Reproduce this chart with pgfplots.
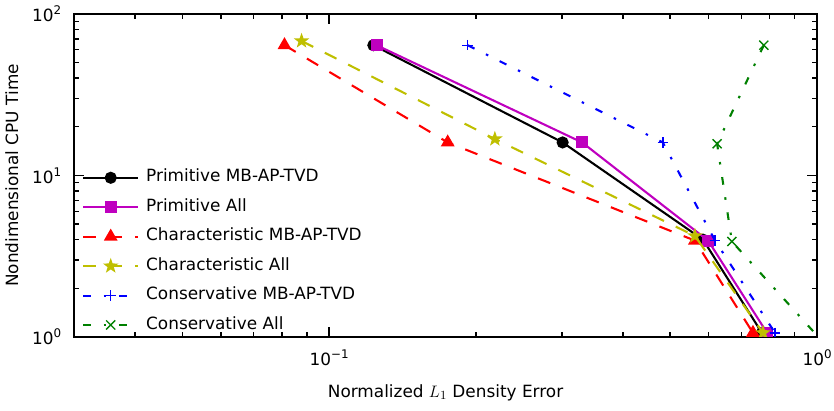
\documentclass[border=0pt]{standalone}
\usepackage{fontspec}
\setmainfont{DejaVu Sans}
\usepackage{pgfplots}
\pgfplotsset{compat=1.18}
\usetikzlibrary{plotmarks}

\definecolor{mplm}{rgb}{0.75,0,0.75}
\definecolor{mply}{rgb}{0.75,0.75,0}
\definecolor{mplg}{rgb}{0,0.5,0}

\pgfdeclareplotmark{fstar}{%
  \pgfpathmoveto{\pgfpointpolar{90}{\pgfplotmarksize}}%
  \pgfpathlineto{\pgfpointpolar{126}{0.40\pgfplotmarksize}}%
  \pgfpathlineto{\pgfpointpolar{162}{\pgfplotmarksize}}%
  \pgfpathlineto{\pgfpointpolar{198}{0.40\pgfplotmarksize}}%
  \pgfpathlineto{\pgfpointpolar{234}{\pgfplotmarksize}}%
  \pgfpathlineto{\pgfpointpolar{270}{0.40\pgfplotmarksize}}%
  \pgfpathlineto{\pgfpointpolar{306}{\pgfplotmarksize}}%
  \pgfpathlineto{\pgfpointpolar{342}{0.40\pgfplotmarksize}}%
  \pgfpathlineto{\pgfpointpolar{18}{\pgfplotmarksize}}%
  \pgfpathlineto{\pgfpointpolar{54}{0.40\pgfplotmarksize}}%
  \pgfpathclose
  \pgfusepathqfillstroke}

\newcommand\sups[1]{\raisebox{0.42em}{\fontsize{8.6}{10}\selectfont #1}}

\begin{document}
\fontsize{12.2}{14.6}\selectfont
\begin{tikzpicture}
\useasboundingbox (-53.3bp,-53.3bp) rectangle (547.2bp,242.6bp);
\begin{axis}[
  scale only axis, width=535bp, height=232.6bp,
  xmode=log, ymode=log,
  xmin=0.03, xmax=1, ymin=1, ymax=100,
  xtick={0.1,1}, xticklabels={10\sups{−1},10\sups{0}},
  ytick={1,10,100}, yticklabels={10\sups{0},10\sups{1},10\sups{2}},
  minor xtick={0.04,0.05,0.06,0.07,0.08,0.09,0.2,0.3,0.4,0.5,0.6,0.7,0.8,0.9},
  minor ytick={2,3,4,5,6,7,8,9,20,30,40,50,60,70,80,90},
  tick align=inside,
  major tick length=7.5bp, minor tick length=3.5bp,
  every tick/.style={black, line width=1bp},
  axis line style={line width=1.5bp},
  xticklabel style={yshift=-5bp},
  yticklabel style={xshift=-5bp},
  xlabel={Normalized $L_1$ Density Error},
  ylabel={Nondimensional CPU Time},
  every axis x label/.style={at={(axis description cs:0.5,-0.1865)}, anchor=base},
  every axis y label/.style={at={(axis description cs:-0.0753,0.5)}, rotate=90, anchor=base},
  clip marker paths=true,
  legend image code/.code={%
    \draw[mark repeat=2,mark phase=2] plot coordinates {(0bp,0bp) (19.8bp,0bp) (39.6bp,0bp)};},
  legend cell align=left,
  legend style={at={(0.011,0.5185)}, anchor=north west, draw=none, fill=none,
    inner sep=0pt, outer sep=0pt, row sep=9.2bp, column sep=5bp,
    nodes={inner sep=0pt, text height=9bp, text depth=3bp}},
]
\addplot[black, line width=1.5bp, mark=*, mark size=3.6bp] coordinates {
  (0.1232,64) (0.301,16) (0.584,4) (0.771,1.06)};
\addlegendentry{Primitive MB-AP-TVD}
\addplot[mplm, line width=1.5bp, mark=square*, mark size=3.6bp] coordinates {
  (0.1251,64) (0.330,16) (0.598,3.95) (0.790,1.06)};
\addlegendentry{Primitive All}
\addplot[red, line width=1.5bp, dash pattern=on 9.4bp off 9.4bp, mark=triangle*, mark size=4.3bp, mark options={solid}] coordinates {
  (0.0810,64) (0.175,16) (0.562,3.95) (0.739,1.06)};
\addlegendentry{Characteristic MB-AP-TVD}
\addplot[mply, line width=1.5bp, dash pattern=on 9.4bp off 9.4bp, mark=fstar, mark size=3.6bp, mark options={solid}] coordinates {
  (0.0878,68) (0.2186,16.8) (0.562,4.22) (0.775,1.06)};
\addlegendentry{Characteristic All}
\addplot[blue, line width=1.5bp, dash pattern=on 5.5bp off 9.2bp on 1.8bp off 9.2bp, mark=+, mark size=3.8bp, mark options={solid, line width=1bp}] coordinates {
  (0.1923,64) (0.483,16) (0.618,3.95) (0.820,1.06)};
\addlegendentry{Conservative MB-AP-TVD}
\addplot[mplg, line width=1.5bp, dash pattern=on 5.5bp off 9.2bp on 1.8bp off 9.2bp, mark=x, mark size=4.6bp, mark options={solid, line width=1bp}] coordinates {
  (0.778,64) (0.624,15.7) (0.669,3.9) (1.06,0.84)};
\addlegendentry{Conservative All}
\end{axis}
\end{tikzpicture}
\end{document}
